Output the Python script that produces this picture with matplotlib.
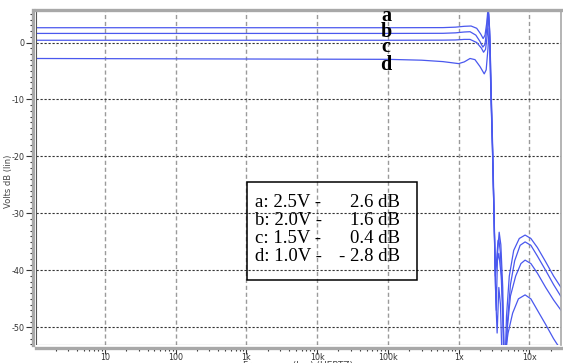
import matplotlib.pyplot as plt
from matplotlib.ticker import FixedLocator, MultipleLocator, LogLocator, NullFormatter
from matplotlib.patches import Rectangle
from matplotlib.lines import Line2D

# filter response (dB) at four supply voltages
freq_a = [1, 1e5, 6e5, 9e5, 1.2e6, 1.5e6, 1.8e6, 2.05e6, 2.22e6, 2.36e6, 2.5e6, 2.62e6,
          2.72e6, 2.85e6, 3.0e6, 3.16e6, 3.3e6, 3.4e6, 3.55e6, 3.74e6, 3.95e6, 4.2e6,
          4.45e6, 4.75e6, 5.2e6, 6.0e6, 7.2e6, 8.7e6, 10.5e6, 13e6, 17e6, 22e6, 28e6]
db_a = [2.6, 2.6, 2.62, 2.7, 2.85, 2.9, 2.5, 1.5, 0.7, 1.3, 3.5, 6.5,
        3.0, -8, -18, -30, -42, -47, -37, -33.3, -35.5, -43,
        -60, -48, -41, -36.5, -34.4, -33.8, -34.4, -36, -38.5, -41, -43]

freq_b = [1, 1e5, 6e5, 9e5, 1.2e6, 1.45e6, 1.75e6, 2.0e6, 2.2e6, 2.36e6, 2.5e6, 2.62e6,
          2.72e6, 2.85e6, 3.0e6, 3.16e6, 3.3e6, 3.45e6, 3.6e6, 3.7e6, 3.9e6, 4.2e6,
          4.55e6, 4.9e6, 5.4e6, 6.2e6, 7.4e6, 8.7e6, 10.5e6, 13e6, 17e6, 22e6, 28e6]
db_b = [1.6, 1.6, 1.62, 1.7, 1.85, 1.9, 1.3, 0.2, -0.8, -0.3, 2.5, 5.8,
        2.5, -8.5, -18.5, -30, -41, -38, -34.8, -34.5, -37, -46,
        -60, -49, -42.5, -38.3, -35.6, -35, -35.6, -37.5, -40, -42.5, -44.6]

freq_c = [1, 1e5, 6e5, 9e5, 1.2e6, 1.45e6, 1.8e6, 2.1e6, 2.25e6, 2.4e6, 2.55e6, 2.65e6,
          2.75e6, 2.88e6, 3.02e6, 3.16e6, 3.3e6, 3.5e6, 3.7e6, 4.0e6, 4.2e6, 4.4e6,
          4.8e6, 5.4e6, 6.4e6, 7.6e6, 8.7e6, 10.5e6, 13e6, 17e6, 22e6, 28e6]
db_c = [0.4, 0.4, 0.42, 0.45, 0.55, 0.55, 0.0, -1.0, -1.7, -1.2, 1.5, 5.0,
        2.0, -9, -19, -30.5, -40, -38.5, -37, -41, -48, -60,
        -51, -44.5, -41, -38.8, -38.2, -38.8, -40.5, -43, -45.2, -47]

freq_d = [1, 1e5, 3e5, 6e5, 1e6, 1.2e6, 1.45e6, 1.7e6, 2.0e6, 2.3e6, 2.45e6, 2.6e6,
          2.7e6, 2.78e6, 2.9e6, 3.05e6, 3.18e6, 3.35e6, 3.5e6, 3.7e6, 3.9e6, 4.2e6,
          4.5e6, 5.0e6, 5.8e6, 7.0e6, 8.7e6, 10.5e6, 13e6, 17e6, 22e6, 28e6]
db_d = [-2.8, -2.95, -3.1, -3.35, -3.7, -3.4, -2.8, -3.0, -4.2, -5.5, -4.8, -1.0,
        2.5, 0.0, -9.5, -20, -30.5, -45, -51, -43, -46, -60,
        -55, -51, -47.5, -45, -44.3, -45, -47, -49.5, -52, -54]

curve_names = ['a', 'b', 'c', 'd']
name_freq = 9.4e4
name_db = [4.7, 1.9, -0.7, -4.0]

legend_left = ['a: 2.5V -', 'b: 2.0V -', 'c: 1.5V -', 'd: 1.0V -']
legend_right = ['2.6 dB', '1.6 dB', '0.4 dB', '- 2.8 dB']

decade_ticks = [10, 100, 1e3, 1e4, 1e5, 1e6, 1e7]
decade_labels = ['10', '100', '1k', '10k', '100k', '1x', '10x']
db_ticks = [0, -10, -20, -30, -40, -50]

narrow = ['Liberation Sans Narrow', 'DejaVu Sans Condensed', 'DejaVu Sans']
serif = ['Liberation Serif', 'DejaVu Serif']

fig = plt.figure(figsize=(5.63, 3.63), dpi=100)
ax = fig.add_axes([36 / 563, 18 / 363, 525 / 563, 335.5 / 363])

line_color = '#4a58ee'
for f, d in [(freq_a, db_a), (freq_b, db_b), (freq_c, db_c), (freq_d, db_d)]:
    ax.plot(f, d, color=line_color, lw=0.9)

ax.set_xscale('log')
ax.set_xlim(1.057, 28e6)
ax.set_ylim(-53.1, 5.8)

ax.xaxis.set_major_locator(FixedLocator(decade_ticks))
ax.set_xticklabels(decade_labels)
ax.xaxis.set_minor_locator(LogLocator(base=10, subs=range(2, 10), numticks=20))
ax.xaxis.set_minor_formatter(NullFormatter())
ax.yaxis.set_major_locator(FixedLocator(db_ticks))
ax.set_yticklabels([str(v) for v in db_ticks])
ax.yaxis.set_minor_locator(MultipleLocator(1))

# grid: gray dashes for decades, dark dots for dB
for x in decade_ticks:
    ax.axvline(x, color='#9a9a9a', lw=1.0, dashes=(3, 2), zorder=0)
for y in db_ticks:
    ax.axhline(y, color='#333333', lw=0.8, dashes=(2, 1.6), zorder=0)

for side in ['left', 'bottom', 'top', 'right']:
    ax.spines[side].set_color('#a8a8a8')
    ax.spines[side].set_linewidth(2.4)
ax.spines['left'].set_position(('outward', 2))
ax.spines['bottom'].set_position(('outward', 2))
ax.spines['right'].set_linewidth(1.2)
ax.add_line(Line2D([0, 0], [0, 1], transform=ax.transAxes, color='#555555', lw=0.8))
ax.add_line(Line2D([0, 1], [0, 0], transform=ax.transAxes, color='#555555', lw=0.8))

ax.tick_params(axis='both', which='both', direction='out', color='#333333', width=0.8)
ax.tick_params(axis='y', which='major', length=5, pad=1)
ax.tick_params(axis='y', which='minor', length=2.5)
ax.tick_params(axis='x', which='major', length=4, pad=0)
ax.tick_params(axis='x', which='minor', length=2)
for lab in ax.get_xticklabels() + ax.get_yticklabels():
    lab.set_family(narrow)
    lab.set_fontsize(5.8)
    lab.set_color('#333333')

fig.text(9 / 563, 0.5, 'Volts dB (lin)', rotation=90, ha='center', va='center',
         family=narrow, fontsize=6, color='#444444')
fig.text(0.53, 2.5 / 363, 'Frequency (log) (HERTZ)', ha='center', va='top',
         family=narrow, fontsize=6.5, color='#444444')

for name, yv in zip(curve_names, name_db):
    ax.text(name_freq, yv, name, ha='center', va='center', family=serif,
            fontsize=14.5, fontweight='bold', color='black')

# voltage / gain key
ax.add_patch(Rectangle((0.401, 0.195), 0.324, 0.29, transform=ax.transAxes,
                       fill=False, edgecolor='black', lw=1.1))
for i, (lt, rt) in enumerate(zip(legend_left, legend_right)):
    yy = 0.425 - i * 0.054
    ax.text(0.418, yy, lt, transform=ax.transAxes, ha='left', va='center',
            family=serif, fontsize=13.5)
    ax.text(0.694, yy, rt, transform=ax.transAxes, ha='right', va='center',
            family=serif, fontsize=13.5)

fig.savefig('out.png', dpi=100)
